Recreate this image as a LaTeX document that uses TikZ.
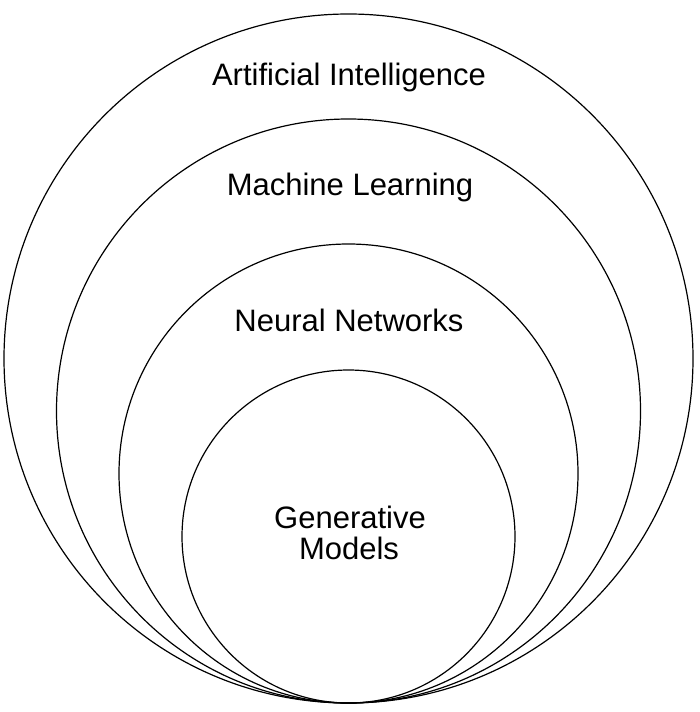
\documentclass[tikz,border=0pt]{standalone}
\usepackage{fontspec}
\setmainfont{Liberation Sans}
\begin{document}
\begin{tikzpicture}[x=1pt,y=-1pt,
  ring/.style={draw=black,line width=1.2pt},
  lbl/.style={anchor=base,inner sep=0pt,font=\fontsize{31}{33}\selectfont}]
\useasboundingbox[fill=white] (0,0) rectangle (700,712);
\draw[ring] (348.5,358.5) circle[radius=344.5];
\draw[ring] (348.5,411) circle[radius=292];
\draw[ring] (348.5,473.5) circle[radius=229.5];
\draw[ring] (348.5,536.5) circle[radius=166.5];
\node[lbl] (ai) at (349,85) {Artificial Intelligence};
\node[lbl] (ml) at (350,195) {Machine Learning};
\node[lbl] (nn) at (349,331) {Neural Networks};
\node[lbl] (gm1) at (350,528) {Generative};
\node[lbl] (gm2) at (349,559) {Models};
\end{tikzpicture}
\end{document}
